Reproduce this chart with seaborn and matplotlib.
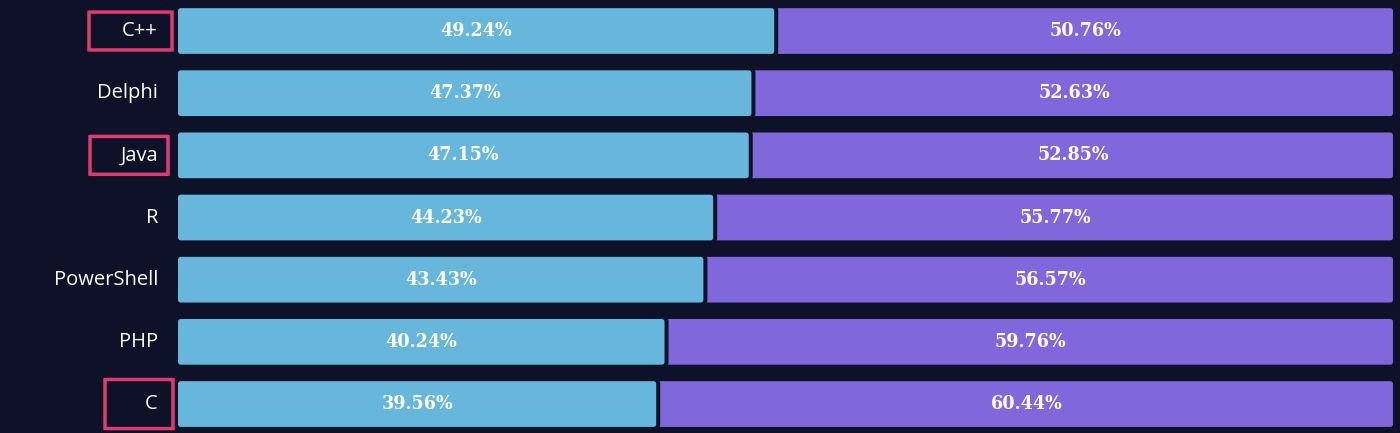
import matplotlib
matplotlib.use("Agg")
import matplotlib.pyplot as plt
import matplotlib.patches as mpatches
import matplotlib.transforms as mtransforms
import pandas as pd
import seaborn as sns

# data
languages = ["C++", "Delphi", "Java", "R", "PowerShell", "PHP", "C"]
share_a = [49.24, 47.37, 47.15, 44.23, 43.43, 40.24, 39.56]
share_b = [50.76, 52.63, 52.85, 55.77, 56.57, 59.76, 60.44]
highlighted = ["C++", "Java", "C"]

bg = "#0d1229"
blue = "#67b7dc"
purple = "#8067dc"
pink = "#e23a6e"

df = pd.DataFrame({"language": languages, "a": share_a, "b": share_b})
df["total"] = df["a"] + df["b"]

sns.set_style("dark")
fig = plt.figure(figsize=(14, 4.33), dpi=100, facecolor=bg)
ax = fig.add_axes([176 / 1400, 0, 1219 / 1400, 1])
ax.set_facecolor(bg)

# stacked: full bar underneath, first share on top
sns.barplot(data=df, x="total", y="language", color=purple, saturation=1,
            width=0.8, edgecolor=bg, linewidth=2.9, ax=ax)
sns.barplot(data=df, x="a", y="language", color=blue, saturation=1,
            width=0.8, edgecolor=bg, linewidth=2.9, ax=ax)

ax.set_xlim(0, 100)
ax.set_ylim(6.466, -0.499)

# round the bar corners a little
px_x = 100 / 1219
px_y = (6.466 + 0.499) / 433
for p in list(ax.patches):
    x, y, w, h = p.get_x(), p.get_y(), p.get_width(), p.get_height()
    fc = p.get_facecolor()
    p.remove()
    ax.add_patch(mpatches.FancyBboxPatch(
        (x, y), w, h, boxstyle=f"round,pad=0,rounding_size={5 * px_x}",
        mutation_aspect=px_y / px_x, facecolor=fc, edgecolor=bg, linewidth=2.9))

ax.set_xlabel("")
ax.set_ylabel("")
ax.set_xticks([])
for s in ax.spines.values():
    s.set_visible(False)
ax.tick_params(axis="y", length=0, pad=13, labelsize=14.5, labelcolor="white")
for lab in ax.get_yticklabels():
    lab.set_fontfamily("Open Sans")
    lab.set_verticalalignment("center")

for i, row in df.iterrows():
    ax.text(row["a"] / 2, i, f"{row['a']:.2f}%", ha="center", va="center",
            color="white", fontsize=14, fontweight="bold", family="DejaVu Serif",
            fontstretch="condensed")
    ax.text(row["a"] + row["b"] / 2, i, f"{row['b']:.2f}%", ha="center", va="center",
            color="white", fontsize=14, fontweight="bold", family="DejaVu Serif",
            fontstretch="condensed")

# pink boxes around a few labels
trans = mtransforms.blended_transform_factory(fig.transFigure, ax.transData)
box_x = {"C++": (89, 172, 0.61), "Java": (90, 168, 0.61), "C": (105, 173, 0.79)}
for name in highlighted:
    i = languages.index(name)
    x0, x1, h = box_x[name]
    ax.add_patch(mpatches.FancyBboxPatch((x0 / 1400, i - h / 2), (x1 - x0) / 1400, h,
                                         boxstyle="round,pad=0,rounding_size=0.002",
                                         transform=trans, fill=False, edgecolor=pink,
                                         linewidth=2.5, clip_on=False))

fig.savefig("out.png", dpi=100, facecolor=bg)
